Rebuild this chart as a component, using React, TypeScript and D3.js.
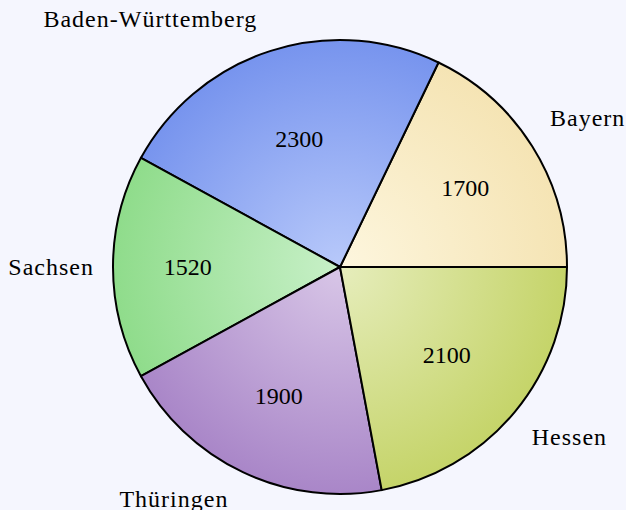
import React, { useEffect, useRef } from 'react';
import * as d3 from 'd3';

const states = ['Bayern', 'Baden-Württemberg', 'Sachsen', 'Thüringen', 'Hessen'];
const values = [1700, 2300, 1520, 1900, 2100];
const outerColors = ['#f5e4b4', '#7794ee', '#8fdc8b', '#a986c8', '#c5d469'];
const innerColors = ['#fdf6de', '#b8c9fa', '#c8f0c8', '#d8c6e7', '#e6edbc'];

const App: React.FC = () => {
  const ref = useRef<SVGSVGElement | null>(null);

  useEffect(() => {
    const width = 626;
    const height = 510;
    const cx = 340;
    const cy = 267;
    const radius = 227;
    const fs = 24;
    const font = "'Liberation Serif', 'Times New Roman', serif";

    const svg = d3.select(ref.current);
    svg.selectAll('*').remove();
    svg.attr('width', width).attr('height', height).attr('viewBox', `0 0 ${width} ${height}`);

    svg.append('rect').attr('width', width).attr('height', height).attr('fill', '#f5f6fe');

    const defs = svg.append('defs');
    states.forEach((_, i) => {
      // gradient lives in the translated group's space, so centre is 0,0
      const g = defs.append('radialGradient')
        .attr('id', `grad${i}`)
        .attr('gradientUnits', 'userSpaceOnUse')
        .attr('cx', 0).attr('cy', 0).attr('r', radius);
      g.append('stop').attr('offset', '0%').attr('stop-color', innerColors[i]);
      g.append('stop').attr('offset', '100%').attr('stop-color', outerColors[i]);
    });

    // counterclockwise from 3 o'clock, like pgf-pie
    const pie = d3.pie<number>().sort(null)
      .startAngle(Math.PI / 2)
      .endAngle(Math.PI / 2 - 2 * Math.PI);
    const arcs = pie(values);
    const arc = d3.arc<d3.PieArcDatum<number>>().innerRadius(0).outerRadius(radius);

    const root = svg.append('g').attr('transform', `translate(${cx},${cy})`);

    root.selectAll('path')
      .data(arcs)
      .join('path')
      .attr('d', arc)
      .attr('fill', (_, i) => `url(#grad${i})`)
      .attr('stroke', '#000')
      .attr('stroke-width', 2)
      .attr('stroke-linejoin', 'round');

    // value labels (pgf-pie placement rule)
    arcs.forEach((a) => {
      const mid = (a.startAngle + a.endAngle) / 2;
      const spanDeg = Math.abs(a.endAngle - a.startAngle) * 180 / Math.PI;
      let off = Math.min((spanDeg - 10) / 110 * -0.3, 0);
      off = Math.max(off, -0.5) + 0.8;
      const rr = off * radius;
      root.append('text')
        .attr('x', Math.sin(mid) * rr)
        .attr('y', -Math.cos(mid) * rr + 0.32 * fs)
        .attr('text-anchor', 'middle')
        .style('font-family', font)
        .style('font-size', `${fs}px`)
        .attr('fill', '#000')
        .text(String(a.value));
    });

    // outer labels with TikZ-style auto anchors
    const ra = 235;
    const pad = 11;
    arcs.forEach((a, i) => {
      const mid = (a.startAngle + a.endAngle) / 2;
      let deg = 90 - mid * 180 / Math.PI;
      deg = ((deg % 360) + 360) % 360;
      const px = Math.sin(mid) * ra;
      const py = -Math.cos(mid) * ra;
      const name = states[i];
      const h = 0.69 * fs;
      const d = /[gypqj]/.test(name) ? 0.2 * fs : 0;

      let anchor = 'middle';
      let x = px;
      let y = py;
      const near = (t: number) => Math.abs(deg - t) < 2.5;
      if (near(0) || near(360)) { anchor = 'start'; x = px + pad; y = py + (h - d) / 2; }
      else if (near(180)) { anchor = 'end'; x = px - pad; y = py + (h - d) / 2; }
      else if (near(90)) { y = py - pad - d; }
      else if (near(270)) { y = py + pad + h; }
      else {
        anchor = deg < 90 || deg > 270 ? 'start' : 'end';
        x = anchor === 'start' ? px + pad : px - pad;
        y = deg < 180 ? py - pad - d : py + pad + h;
      }

      root.append('text')
        .attr('x', x)
        .attr('y', y)
        .attr('text-anchor', anchor)
        .style('font-family', font)
        .style('font-size', `${fs}px`)
        .style('letter-spacing', '1px')
        .attr('fill', '#000')
        .text(name);
    });
  }, []);

  return (
    <svg ref={ref} style={{ position: 'absolute', left: 0, top: 0, display: 'block' }}></svg>
  );
};

export default App;
